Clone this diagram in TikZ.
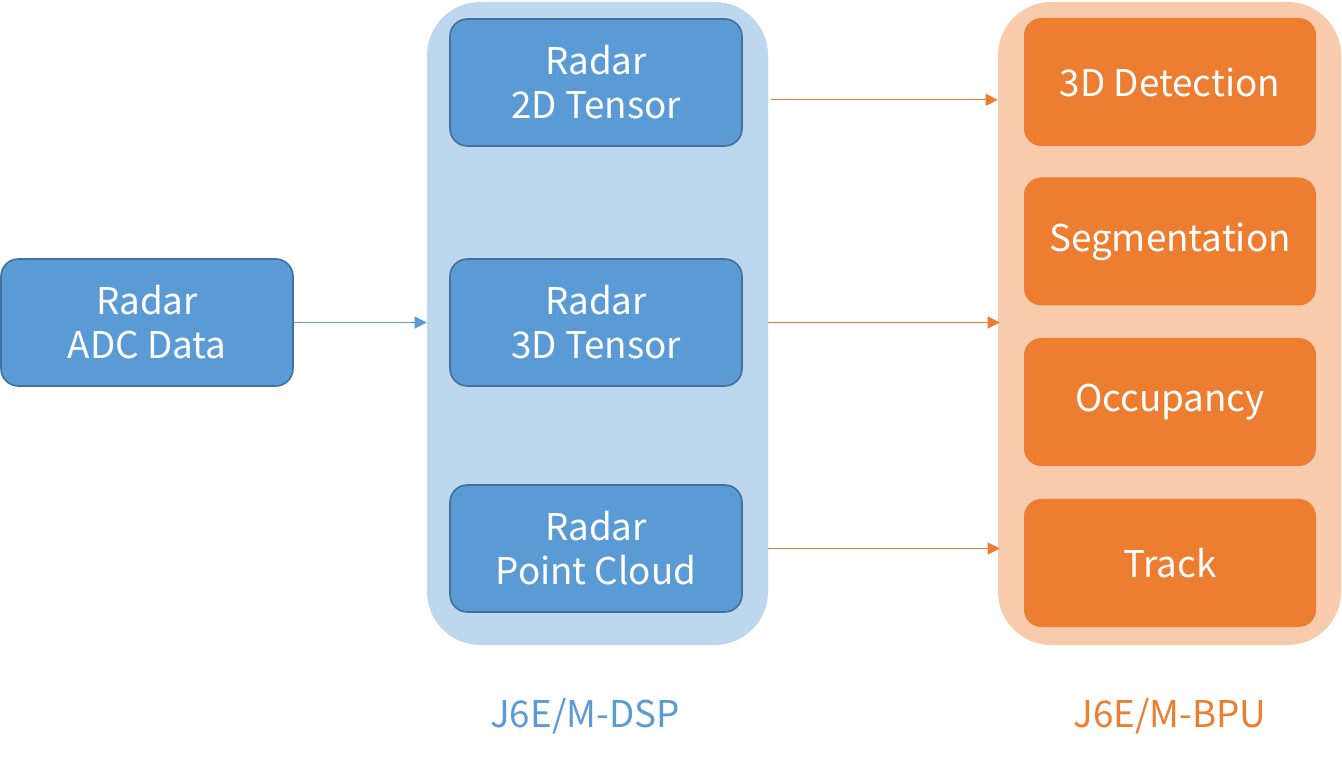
\documentclass[tikz,border=0pt]{standalone}
\usepackage{fontspec}
\setmainfont{Noto Sans CJK SC}
\usepackage{tikz}
\usetikzlibrary{arrows.meta,shapes}
\definecolor{dspblue}{HTML}{5B9BD5}
\definecolor{dspline}{HTML}{41719C}
\definecolor{dsplight}{HTML}{BDD7EE}
\definecolor{bpuorange}{HTML}{ED7D31}
\definecolor{bpulight}{HTML}{F8CBAD}
\tikzstyle{group}=[rectangle,rounded corners=40pt,inner sep=0pt,minimum height=482.25pt]
\tikzstyle{dspbox}=[rectangle,rounded corners=13pt,fill=dspblue,draw=dspline,line width=1.2pt,text=white,align=center,minimum width=219pt,minimum height=95.25pt,font=\fontsize{27.6}{33}\selectfont]
\tikzstyle{bpubox}=[rectangle,rounded corners=13pt,fill=bpuorange,text=white,align=center,minimum width=219pt,minimum height=96pt,font=\fontsize{27.6}{33}\selectfont]
\tikzstyle{tag}=[font=\fontsize{27.6}{33}\selectfont]
\tikzstyle{bluearrow} = [draw=dspblue,line width=0.8pt,-{Triangle[length=9pt,width=9pt]}]
\tikzstyle{orangearrow} = [draw=bpuorange,line width=0.8pt,-{Triangle[length=9pt,width=9pt]}]
\begin{document}
\begin{tikzpicture}[x=0.75pt,y=-0.75pt]
    \useasboundingbox (0,0) rectangle (1342,762);
    % The two platform groups
    \node[group,fill=dsplight,minimum width=255.75pt] (dsp) at (597.5,323.5) {};
    \node[group,fill=bpulight,minimum width=257.25pt] (bpu) at (1169.5,323.5) {};
    \node[tag,text=dspblue] (dsplabel) at (585,716) {J6E/M-DSP};
    \node[tag,text=bpuorange] (bpulabel) at (1170,716) {J6E/M-BPU};

    % Radar data boxes
    \foreach \pos/\name/\txt in {{(147,322.5)/adc/Radar\\ADC Data}, {(596,82.5)/tensor2d/Radar\\2D Tensor}, {(596,322.5)/tensor3d/Radar\\3D Tensor}, {(596,548.5)/pointcloud/Radar\\Point Cloud}}
        \node[dspbox] (\name) at \pos {\txt};

    % Perception tasks
    \foreach \pos/\name/\txt in {{(1170,82)/detection/3D Detection}, {(1170,241.5)/segmentation/Segmentation}, {(1170,402)/occupancy/Occupancy}, {(1170,563)/track/Track}}
        \node[bpubox] (\name) at \pos {\txt};

    % Connect with arrows
    \path[bluearrow] (adc) -- (adc -| dsp.west);
    \path[orangearrow] ([xshift=2pt,yshift=-13pt]tensor2d.east -| dsp.east) -- ([yshift=-13pt]tensor2d.east -| bpu.west);
    \foreach \source in {tensor3d, pointcloud}
        \path[orangearrow] ([xshift=0pt]\source.east -| dsp.east) -- ([xshift=1.5pt]\source.east -| bpu.west);

\end{tikzpicture}
\end{document}
